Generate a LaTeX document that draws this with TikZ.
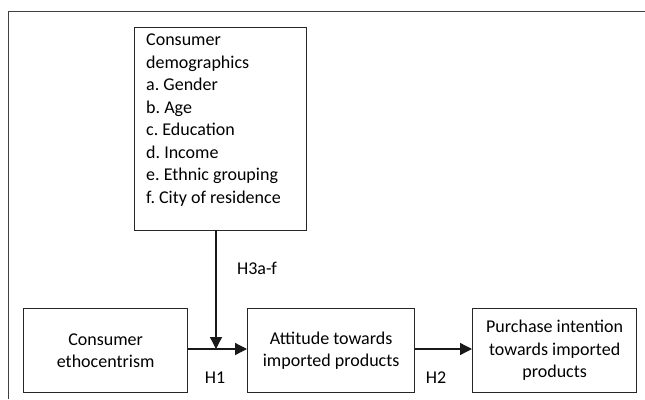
\documentclass[tikz,border=0pt]{standalone}
\usepackage{fontspec}
\setmainfont{Carlito}
\usetikzlibrary{arrows.meta}
\frenchspacing
\begin{document}
\begin{tikzpicture}[x=1pt,y=-1pt,
  box/.style={draw=black!85,line width=1.3pt,inner sep=0pt},
  txt/.style={font=\fontsize{18}{22.5}\selectfont,align=center},
  lbl/.style={font=\fontsize{18}{20}\selectfont,inner sep=0pt},
  conn/.style={line width=1.3pt,draw=black!90,-{Triangle[length=12pt,width=12pt]}},
  frame/.style={draw=black!75,line width=1pt}]
\useasboundingbox (0,0) rectangle (645,399);
\draw[frame] (8,399) -- (8,11.7) -- (645,11.7);
% boxes
\node[box,minimum width=172pt,minimum height=203pt,anchor=north west] (demo) at (134,27) {};
\node[anchor=north west,inner sep=0pt,align=left,font=\fontsize{18}{22.5}\selectfont] (demotxt) at (146,34)
 {Consumer\\demographics\\a. Gender\\b. Age\\c. Education\\d. Income\\e. Ethnic grouping\\f. City of residence};
\node[box,minimum width=164pt,minimum height=84pt,anchor=north west] (eth) at (23,308) {};
\node[txt] (ethtxt) at (eth.center) {Consumer\\ethocentrism};
\node[box,minimum width=167pt,minimum height=84pt,anchor=north west] (att) at (247,308) {};
\node[txt] (atttxt) at (att.center) {Attitude towards\\imported products};
\node[box,minimum width=164pt,minimum height=84pt,anchor=north west] (pur) at (472,308) {};
\node[txt] (purtxt) at (pur.center) {Purchase intention\\towards imported\\products};
% connectors
\coordinate (vtop) at (216,230);
\coordinate (vend) at (216,349);
\draw[conn] (eth.east |- 0,349) -- (att.west |- 0,349);
\draw[conn] (att.east |- 0,349) -- (pur.west |- 0,349);
\draw[conn] (vtop) -- (vend);
% labels
\node[lbl] (h3) at (257,268) {H3a-f};
\node[lbl] (h1) at (215,378) {H1};
\node[lbl] (h2) at (436,378) {H2};
\end{tikzpicture}
\end{document}
